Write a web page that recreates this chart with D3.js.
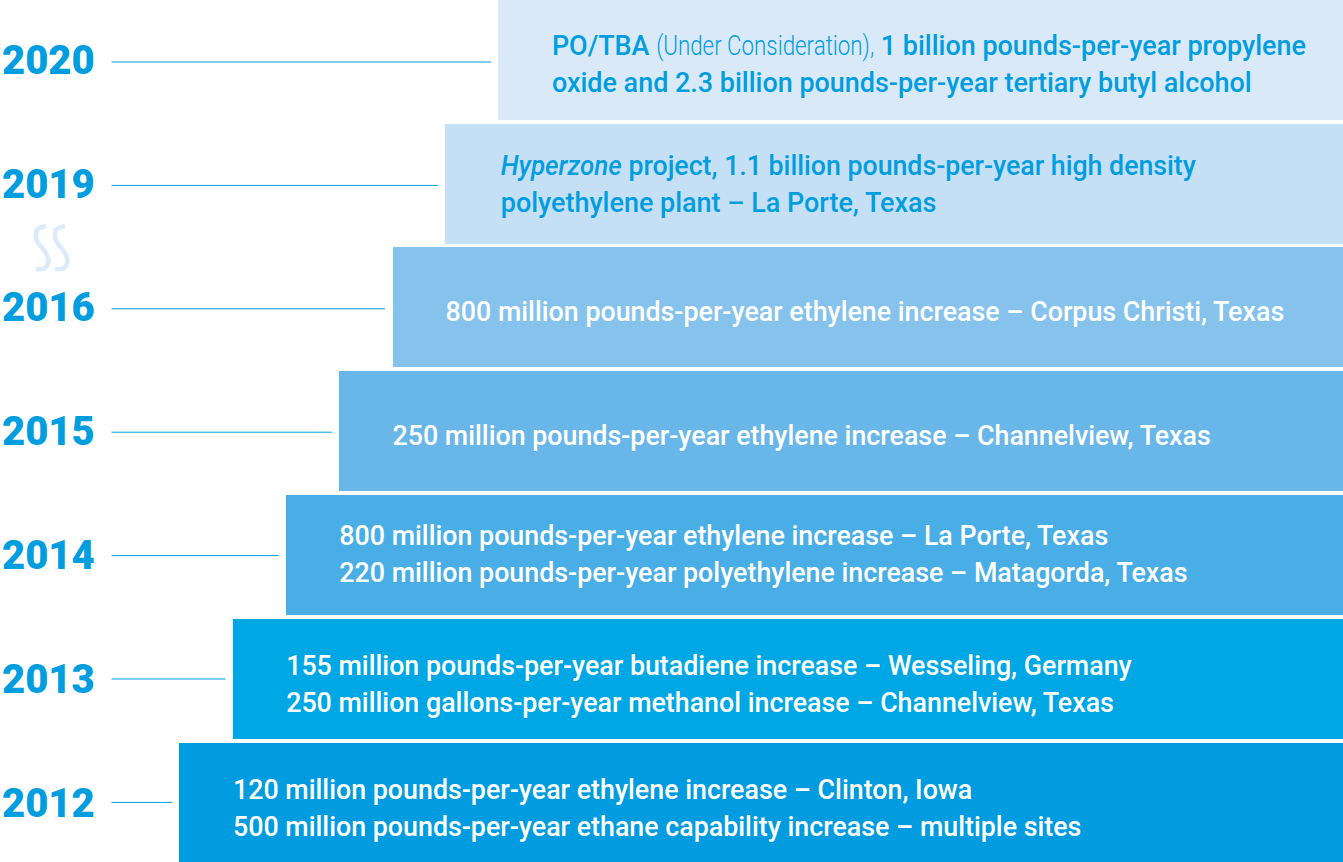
<!DOCTYPE html>
<html>
<head>
<meta charset="utf-8">
<script src="https://cdn.jsdelivr.net/npm/d3@7"></script>
<style>
  html, body { margin: 0; padding: 0; background: #fff; overflow: hidden; }
  svg { display: block; }
  text { font-family: Roboto, sans-serif; white-space: pre; }
</style>
</head>
<body>
<script>
// - Capacity additions staircase -

// Data

const years = ["2020", "2019", "2016", "2015", "2014", "2013", "2012"];
const stepRanks = [6, 5, 4, 3, 2, 1, 0];
const barColors = ["#d9e9f8", "#c5dff5", "#85c2ec", "#69b7e8", "#49aee5", "#00a7e5", "#009cdf"];
const textColors = ["#009ddf", "#009ddf", "#fff", "#fff", "#fff", "#fff", "#fff"];

// each line is a list of [text, style] runs
const descriptions = [
  [
    [["PO/TBA ", "b"], ["(Under Consideration),", "light"], [" 1 billion pounds-per-year propylene", "b"]],
    [["oxide and 2.3 billion pounds-per-year tertiary butyl alcohol", "b"]]
  ],
  [
    [["Hyperzone", "i"], [" project, 1.1 billion pounds-per-year high density", "p"]],
    [["polyethylene plant – La Porte, Texas", "b"]]
  ],
  [[["800 million pounds-per-year ethylene increase – Corpus Christi, Texas", "r"]]],
  [[["250 million pounds-per-year ethylene increase – Channelview, Texas", "r"]]],
  [
    [["800 million pounds-per-year ethylene increase – La Porte, Texas", "r"]],
    [["220 million pounds-per-year polyethylene increase – Matagorda, Texas", "r"]]
  ],
  [
    [["155 million pounds-per-year butadiene increase – Wesseling, Germany", "r"]],
    [["250 million gallons-per-year methanol increase – Channelview, Texas", "r"]]
  ],
  [
    [["120 million pounds-per-year ethylene increase – Clinton, Iowa", "r"]],
    [["500 million pounds-per-year ethane capability increase – multiple sites", "r"]]
  ]
];

// Chartsize

const w = 1343,
      h = 862,
      lineHeight = 37,
      textInset = 53.6,
      lineStart = 111.5,
      lineGap = 7;

// baseline of the first text line, measured from the top of the bar
const firstBaseline = [55, 51, 74, 74, 50, 56, 56];
const textShift = [0, 2, 0, 0, 0, 0, 0];
const barShift = [0, 0, 1, 0, 0, 0, 0];

// runs squeezed to the width they have in the artwork
const runWidths = { light: 218, i: 121, p: 574 };
const runWeights = { b: 500, r: 500, p: 500, i: 500, light: 300 };
const runSizes = { b: 26.95, r: 26.8, p: 26.95, i: 26.95, light: 26.95 };

// Scales

const y = d3.scaleBand()
            .domain(years)
            .range([-0.2, 862.6])
            .paddingInner(0.0307);

const x = d3.scaleLinear()
            .domain([0, 6])
            .range([179.4, 498.3]);

// the leader lines are spaced a little tighter than the bars
const lineY = d3.scalePoint()
                .domain(years)
                .range([62, 802.4]);

// SVG

const svg = d3.select("body")
              .append("svg")
              .attr("width", w)
              .attr("height", h);

const rows = svg.selectAll("g.row")
                .data(years)
                .enter()
                .append("g")
                .attr("class", "row");

// Bars

const barLeft = i => Math.round(x(stepRanks[i])) + barShift[i];

rows.append("rect")
    .attr("x", (d, i) => barLeft(i))
    .attr("y", d => Math.round(y(d)))
    .attr("width", (d, i) => w - barLeft(i))
    .attr("height", y.bandwidth())
    .attr("fill", (d, i) => barColors[i]);

// Leader lines

rows.append("line")
    .attr("x1", lineStart)
    .attr("x2", (d, i) => x(stepRanks[i]) - lineGap)
    .attr("y1", d => lineY(d))
    .attr("y2", d => lineY(d))
    .attr("stroke", "#009ddf")
    .attr("stroke-width", 1);

// Year labels

rows.append("text")
    .attr("x", 2)
    .attr("y", d => y(d) + y.bandwidth() / 2 + 14)
    .attr("font-size", 40)
    .attr("font-weight", 900)
    .attr("fill", "#009ddf")
    .text(d => d);

// Descriptions

rows.each(function(d, i) {
  const row = d3.select(this);
  descriptions[i].forEach((runs, l) => {
    const baseline = Math.round(y(d)) + firstBaseline[i] + l * lineHeight;
    let cursor = x(stepRanks[i]) + textInset + textShift[i];
    runs.forEach(run => {
      const label = row.append("text")
                       .attr("font-size", runSizes[run[1]])
                       .attr("font-weight", runWeights[run[1]])
                       .attr("font-style", run[1] === "i" ? "italic" : null)
                       .attr("fill", textColors[i])
                       .text(run[0]);
      const natural = label.node().getComputedTextLength();
      const squeeze = runWidths[run[1]] ? runWidths[run[1]] / natural : 1;
      label.attr("transform", "translate(" + cursor + "," + baseline + ") scale(" + squeeze + ",1)");
      cursor += natural * squeeze;
    });
  });
});

// Break mark between 2019 and 2016

const breakLine = d3.line().curve(d3.curveCatmullRom);
[0, 19].forEach(dx => {
  svg.append("path")
     .attr("d", breakLine([[46 + dx, 226], [37 + dx, 230], [37 + dx, 241], [44 + dx, 250], [48.5 + dx, 260], [45 + dx, 268], [36 + dx, 269]]))
     .attr("fill", "none")
     .attr("stroke", "#dcebf9")
     .attr("stroke-width", 4.5);
});
</script>
</body>
</html>
